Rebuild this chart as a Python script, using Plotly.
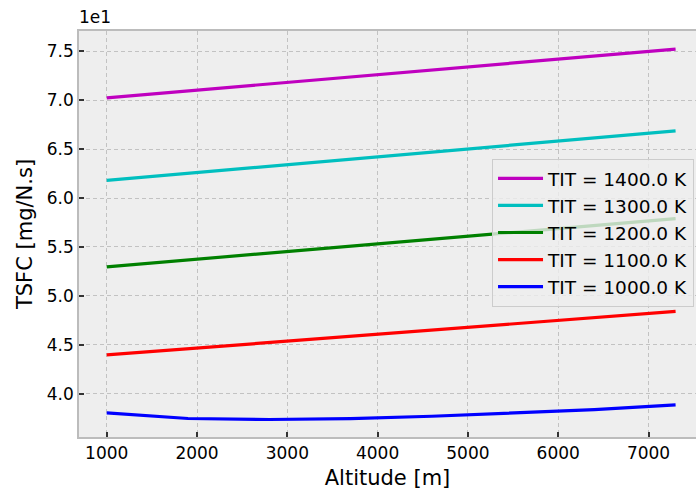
import plotly.graph_objects as go

altitude = [1000, 1900, 2800, 3700, 4600, 5500, 6400, 7300]
tsfc_1400 = [70.24, 70.95, 71.66, 72.37, 73.10, 73.83, 74.53, 75.23]
tsfc_1300 = [61.80, 62.52, 63.25, 63.97, 64.70, 65.42, 66.15, 66.87]
tsfc_1200 = [52.96, 53.67, 54.37, 55.08, 55.78, 56.49, 57.20, 57.90]
tsfc_1100 = [43.95, 44.59, 45.22, 45.86, 46.49, 47.13, 47.76, 48.40]
tsfc_1000 = [38.02, 37.45, 37.35, 37.44, 37.68, 37.98, 38.35, 38.84]

series = [
    ("TIT = 1400.0 K", tsfc_1400, "#bf00bf"),
    ("TIT = 1300.0 K", tsfc_1300, "#00bfbf"),
    ("TIT = 1200.0 K", tsfc_1200, "#008000"),
    ("TIT = 1100.0 K", tsfc_1100, "#ff0000"),
    ("TIT = 1000.0 K", tsfc_1000, "#0000ff"),
]

x_ticks = [1000, 2000, 3000, 4000, 5000, 6000, 7000]
y_ticks = [40, 45, 50, 55, 60, 65, 70, 75]
y_ticklabels = ["4.0", "4.5", "5.0", "5.5", "6.0", "6.5", "7.0", "7.5"]

FONT = "DejaVu Sans"

fig = go.Figure()
for i, (name, vals, col) in enumerate(series):
    fig.add_trace(go.Scatter(
        x=altitude, y=vals, mode="lines", name=name,
        line=dict(color=col, width=3.2),
    ))

axis_common = dict(
    showgrid=True, gridcolor="#c2c2c2", griddash="4px,3px", gridwidth=1,
    showline=True, linecolor="#bcbcbc", linewidth=1.5,
    ticks="inside", ticklen=5, tickwidth=1.5, tickcolor="#333333",
    zeroline=False, tickfont=dict(family=FONT, size=17, color="#000"),
)

fig.update_layout(
    width=696, height=493,
    margin=dict(l=79, r=0, t=31, b=56),
    paper_bgcolor="white", plot_bgcolor="#eeeeee",
    font=dict(family=FONT, color="#000"),
    showlegend=True,
    legend=dict(
        x=0.9968, y=0.685, xanchor="right", yanchor="top",
        bgcolor="rgba(238,238,238,0.8)", bordercolor="#cccccc", borderwidth=1,
        font=dict(family=FONT, size=18.5, color="#000"),
        tracegroupgap=0, itemwidth=45,
    ),
    xaxis=dict(
        range=[693, 7526], tickvals=x_ticks, mirror=True,
        title=dict(text="Altitude [m]", font=dict(family=FONT, size=21), standoff=8),
        **axis_common,
    ),
    yaxis=dict(
        range=[35.56, 77.08], tickvals=y_ticks, ticktext=y_ticklabels, mirror=False,
        title=dict(text="TSFC [mg/N.s]", font=dict(family=FONT, size=21), standoff=8),
        **axis_common,
    ),
)

fig.add_annotation(
    text="1e1", xref="paper", yref="paper", x=0, y=1, xanchor="left", yanchor="bottom",
    showarrow=False, font=dict(family=FONT, size=17, color="#000"), yshift=2, xshift=-2,
)

fig.write_html("out.html")
